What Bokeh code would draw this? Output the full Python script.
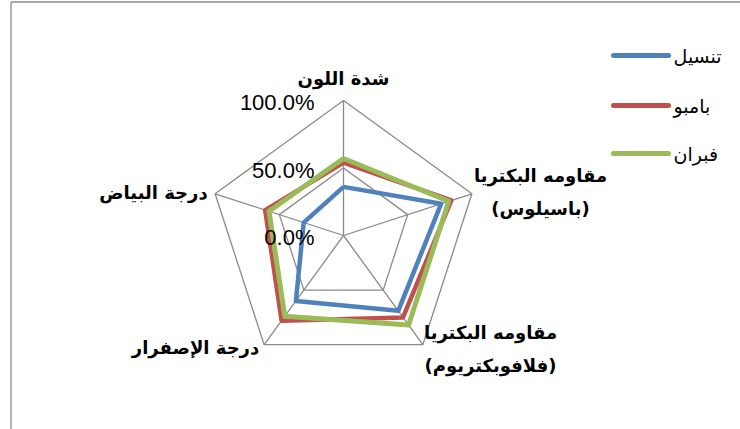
import numpy as np
from bokeh.plotting import figure
from bokeh.models import Range1d
from bokeh.core.properties import value
from bokeh.embed import file_html
from bokeh.resources import INLINE

# ---- data ----
categories = ["شدة اللون", "مقاومه البكتريا (باسيلوس)", "مقاومه البكتريا (فلافوبكتريوم)",
              "درجة الإصفرار", "درجة البياض"]
category_lines = [["شدة اللون"], ["مقاومه البكتريا", "(باسيلوس)"],
                  ["مقاومه البكتريا", "(فلافوبكتريوم)"], ["درجة الإصفرار"], ["درجة البياض"]]
tick_values = [0.0, 0.5, 1.0]
tick_labels = ["0.0%", "50.0%", "100.0%"]
series_names = ["تنسيل", "بامبو", "فبران"]
tanseel = [0.36, 0.76, 0.69, 0.60, 0.31]
bamboo = [0.54, 0.84, 0.75, 0.78, 0.61]
fabran = [0.57, 0.82, 0.82, 0.74, 0.58]
series_values = [tanseel, bamboo, fabran]
colors = ["#4F81BD", "#C0504D", "#9BBB59"]
widths = [4.5, 4.5, 5]

# ---- layout (page pixels; figure sits at page origin) ----
W, H = 740, 429
CXP, CYP, R = 343, 235, 135


def fx(px):
    return (px - CXP) / R


def fy(py):
    return (CYP - py) / R


p = figure(width=W, height=H, output_backend="svg", toolbar_location=None,
           x_range=Range1d(fx(0), fx(W)), y_range=Range1d(fy(H), fy(0)),
           min_border=0)
p.axis.visible = False
p.grid.visible = False
p.outline_line_color = None
p.background_fill_color = "white"

n = len(categories)
angles = np.pi / 2 - np.arange(n) * 2 * np.pi / n
ca, sa = np.cos(angles), np.sin(angles)

# chart-area border (left and top)
p.segment(x0=[fx(10.5), fx(10.5)], y0=[fy(1.5), fy(1.5)], x1=[fx(10.5), fx(W)],
          y1=[fy(H), fy(1.5)], line_color="#8c8c8c", line_width=1.3)

# grid rings and spokes
for t in tick_values[1:]:
    xs = list(t * ca) + [t * ca[0]]
    ys = list(t * sa) + [t * sa[0]]
    p.line(xs, ys, line_color="#8a8a8a", line_width=1.3)
p.segment(x0=[0] * n, y0=[0] * n, x1=list(ca), y1=list(sa), line_color="#8a8a8a", line_width=1.3)

# series
for vals, c, w in zip(series_values, colors, widths):
    v = np.array(vals)
    xs = list(v * ca) + [v[0] * ca[0]]
    ys = list(v * sa) + [v[0] * sa[0]]
    p.line(xs, ys, line_color=c, line_width=w, line_join="round")

# tick labels
p.text(x=[0] * len(tick_values), y=tick_values, text=tick_labels,
       x_offset=-29, y_offset=2, text_align="right", text_baseline="middle",
       text_font=value("Liberation Sans"), text_font_size="22px", text_color="black")

# category labels (page-pixel centers of each line)
label_pos = [[(343, 78)], [(540, 175), (540, 208)], [(490, 332), (490, 365)],
             [(195, 347)], [(153, 192)]]
lx, ly, lt = [], [], []
for lines, pos in zip(category_lines, label_pos):
    for s, (px, py) in zip(lines, pos):
        lx.append(fx(px)); ly.append(fy(py)); lt.append(s)
p.text(x=lx, y=ly, text=lt, text_align="center", text_baseline="middle",
       text_font=value("DejaVu Sans"), text_font_style="bold", text_font_size="18px",
       text_color="black")

# legend
leg_y = [55, 105, 153]
p.segment(x0=[fx(613)] * 3, x1=[fx(668)] * 3, y0=[fy(y) for y in leg_y], y1=[fy(y) for y in leg_y],
          line_color=colors, line_width=5, line_cap="round")
p.text(x=[fx(673)] * 3, y=[fy(y) for y in leg_y], text=series_names, text_align="left",
       text_baseline="middle", text_font=value("DejaVu Sans"), text_font_size="19px",
       text_color="black")

open("out.html", "w").write(file_html(p, INLINE))
